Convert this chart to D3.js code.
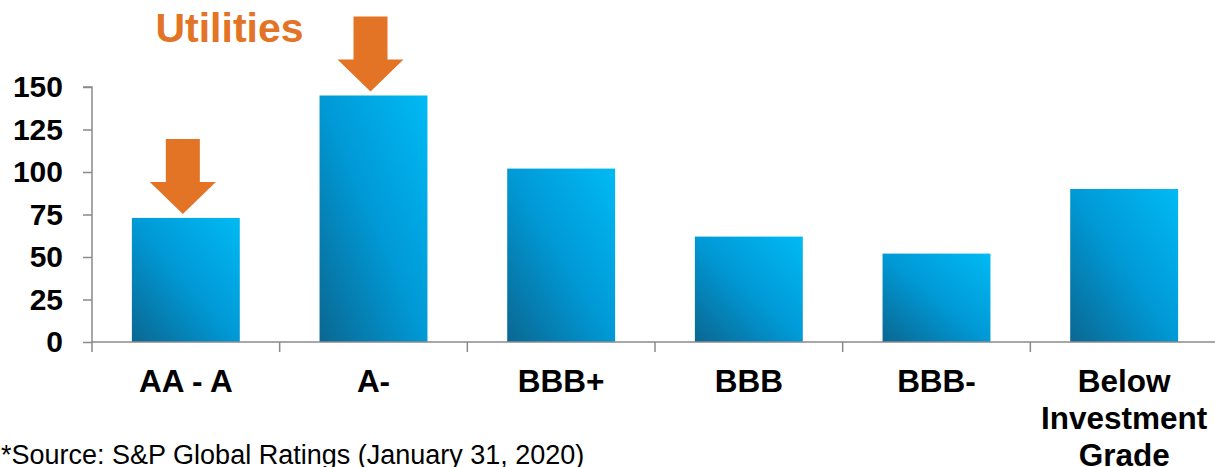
<!DOCTYPE html>
<html>
<head>
<meta charset="utf-8">
<script src="https://cdn.jsdelivr.net/npm/d3@7"></script>
<style>
  html, body { margin: 0; padding: 0; background: #fff; }
  svg { display: block; font-family: "Liberation Sans", Arial, sans-serif; }
</style>
</head>
<body>
<svg id="chart" width="1215" height="467"></svg>
<script>
// Rating buckets and issuer counts (utilities)
const categories = ["AA - A", "A-", "BBB+", "BBB", "BBB-", "Below Investment Grade"];
const values = [73, 145, 102, 62, 52, 90];
const yTicks = [0, 25, 50, 75, 100, 125, 150];
// Buckets flagged with an arrow
const highlighted = ["AA - A", "A-"];
const title = "Utilities";
const sourceNote = "*Source: S&P Global Ratings (January 31, 2020)";

const svg = d3.select("#chart");
const plotLeft = 92, plotRight = 1218, plotTop = 87, plotBottom = 342;

const x = d3.scaleBand()
  .domain(categories)
  .range([plotLeft, plotRight])
  .paddingInner(0.425)
  .paddingOuter(0.2125);

const y = d3.scaleLinear().domain([0, 150]).range([plotBottom, plotTop]);

// Bar fill: dark blue in the lower-left corner, bright cyan upper-right
const defs = svg.append("defs");
const grad = defs.append("linearGradient")
  .attr("id", "barFill")
  .attr("x1", 0).attr("y1", 1).attr("x2", 1).attr("y2", 0);
grad.append("stop").attr("offset", 0).attr("stop-color", "#0a6791");
grad.append("stop").attr("offset", 0.5).attr("stop-color", "#0099d6");
grad.append("stop").attr("offset", 1).attr("stop-color", "#00baf4");

svg.append("g").selectAll("rect")
  .data(values)
  .join("rect")
  .attr("x", (d, i) => x(categories[i]))
  .attr("y", d => y(d))
  .attr("width", x.bandwidth())
  .attr("height", d => y(0) - y(d))
  .attr("fill", "url(#barFill)");

// Y axis
const yAxis = d3.axisLeft(y).tickValues(yTicks).tickSize(9).tickPadding(20);
const gy = svg.append("g").attr("transform", `translate(${plotLeft},0)`).call(yAxis);
gy.select(".domain").attr("d", `M-9,${plotTop}H0V${plotBottom + 10}`);
gy.selectAll("path, line").attr("stroke", "#8a8a8a").attr("stroke-width", 1.5);
gy.selectAll("text")
  .attr("fill", "#000")
  .attr("font-size", 30)
  .attr("font-weight", "bold")
  .attr("font-family", "Liberation Sans, Arial, sans-serif");

// X axis: baseline with ticks on the category boundaries
const gx = svg.append("g");
gx.append("line")
  .attr("x1", plotLeft).attr("x2", plotRight)
  .attr("y1", y(0)).attr("y2", y(0))
  .attr("stroke", "#8a8a8a").attr("stroke-width", 1.5);
const step = x.step();
const boundaries = d3.range(1, categories.length).map(i => plotLeft + i * step);
gx.selectAll("line.tick")
  .data(boundaries)
  .join("line")
  .attr("class", "tick")
  .attr("x1", d => d).attr("x2", d => d)
  .attr("y1", y(0)).attr("y2", y(0) + 10)
  .attr("stroke", "#8a8a8a").attr("stroke-width", 1.5);

// Category labels, wrapped for the long one
const wrapLines = {"Below Investment Grade": ["Below", "Investment", "Grade"]};
const labels = gx.selectAll("text.cat")
  .data(categories)
  .join("text")
  .attr("class", "cat")
  .attr("text-anchor", "middle")
  .attr("font-size", 31.5)
  .attr("font-weight", "bold")
  .attr("fill", "#000")
  .attr("transform", d => `translate(${x(d) + x.bandwidth() / 2},392)`);
labels.each(function(d) {
  const lines = wrapLines[d] || [d];
  d3.select(this).selectAll("tspan")
    .data(lines)
    .join("tspan")
    .attr("x", 0)
    .attr("y", (l, i) => i * 37)
    .text(l => l);
});

// Down arrows over the flagged buckets
const arrowColor = "#e37325";
const shaftHalf = 17, headHalf = 33, headH = 32, arrowH = 75, gap = 4;
svg.append("g").selectAll("path")
  .data(highlighted)
  .join("path")
  .attr("fill", arrowColor)
  .attr("d", c => {
    const i = categories.indexOf(c);
    const cx = x(c) + x.bandwidth() / 2 - 3;
    const tip = y(values[i]) - gap;
    const topY = tip - arrowH;
    const headY = tip - headH;
    return `M${cx - shaftHalf},${topY}H${cx + shaftHalf}V${headY}H${cx + headHalf}` +
           `L${cx},${tip}L${cx - headHalf},${headY}H${cx - shaftHalf}Z`;
  });

// Title
svg.append("text")
  .attr("x", 229.5).attr("y", 42)
  .attr("text-anchor", "middle")
  .attr("font-size", 41)
  .attr("font-weight", "bold")
  .attr("fill", arrowColor)
  .text(title);

// Source note
svg.append("text")
  .attr("x", 1).attr("y", 464)
  .attr("font-size", 27)
  .attr("fill", "#000")
  .text(sourceNote);
</script>
</body>
</html>
